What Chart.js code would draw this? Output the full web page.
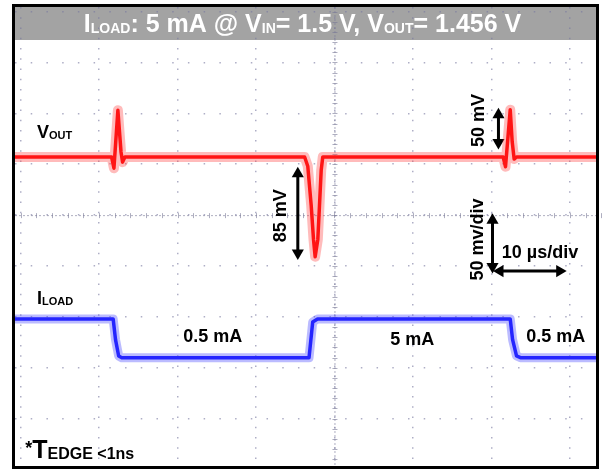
<!DOCTYPE html>
<html>
<head>
<meta charset="utf-8">
<script src="https://cdn.jsdelivr.net/npm/chart.js@4.4.1/dist/chart.umd.min.js"></script>
<style>
  html, body { margin: 0; padding: 0; background: #fff; }
  #wrap { width: 603px; height: 473px; }
</style>
</head>
<body>
<div id="wrap"><canvas id="scopeChart"></canvas></div>
<script>
// time in µs (10 µs/div), VOUT deviation in mV, ILOAD in mA
const voutTime = [-41, -28.4, -28.1, -27.6, -27.2, -27.0, -26.7, -3.8, -3.4, -2.96, -2.67, -2.46, -2.12, -1.91, -1.69, -1.49, 21.5, 21.8, 22.4, 22.65, 22.9, 23.2, 34];
const voutMv   = [0, 0, -11, 46, 5, -5, 0, 0, -9, -48, -81, -98, -81, -48, -13, 0, 0, -9.5, 46.5, 15, -2, 0, 0];

const iloadTime = [-41, -28.2, -27.9, -27.5, -27.1, -3.24, -2.9, -2.77, -2.16, 22.4, 22.7, 23.2, 23.7, 34];
const iloadMa   = [5, 5, 2.6, 0.7, 0.5, 0.5, 3.5, 4.65, 5, 5, 2.6, 0.7, 0.5, 0.5];

// measurement arrows [x, y] pairs
const arrow85mV = [[-4.67, -16.3], [-4.67, -94.4]];
const arrow50mV = [[20.9, 41.7], [20.9, 14.4]];
const arrowVdiv = [[20.14, -0.1], [20.14, -1.01]];   // grid units (div)
const arrowTdiv = [[21.1, -1.1], [28.7, -1.1]];

const toXY = (xs, ys) => xs.map((x, i) => ({ x: x, y: ys[i] }));
const pairs = p => p.map(d => ({ x: d[0], y: d[1] }));

function trace(xs, ys, axis, color, width) {
  return {
    data: toXY(xs, ys), yAxisID: axis,
    borderColor: color, borderWidth: width, borderJoinStyle: 'round',
    pointRadius: 0, tension: 0
  };
}

function arrowSet(points, yAxis, rot) {
  return {
    data: pairs(points), yAxisID: yAxis,
    borderColor: '#000', backgroundColor: '#000', borderWidth: 3,
    pointStyle: 'triangle', pointRadius: 7, pointHoverRadius: 7,
    pointRotation: rot, pointBorderWidth: 0
  };
}

// draw text runs with sub-scripts: [text, size, dy]
function drawRuns(ctx, x, y, runs, align) {
  let w = 0;
  runs.forEach(r => { ctx.font = 'bold ' + r[1] + 'px "Liberation Sans", Arial, sans-serif'; w += ctx.measureText(r[0]).width; });
  let cx = align === 'center' ? x - w / 2 : x;
  ctx.textAlign = 'left';
  ctx.textBaseline = 'alphabetic';
  runs.forEach(r => {
    ctx.font = 'bold ' + r[1] + 'px "Liberation Sans", Arial, sans-serif';
    ctx.fillText(r[0], cx, y + (r[2] || 0));
    cx += ctx.measureText(r[0]).width;
  });
}

const scopeDecor = {
  id: 'scopeDecor',
  beforeDraw(chart) {
    const { ctx, chartArea: a } = chart;
    ctx.save();
    ctx.fillStyle = '#a3a3a3';
    ctx.fillRect(a.left, a.top, a.right - a.left, 33);
    ctx.restore();
  },
  beforeDatasetsDraw(chart) {
    const { ctx, chartArea: a, scales } = chart;
    const x0 = scales.x.getPixelForValue(0), y0 = scales.y.getPixelForValue(0);
    ctx.save();
    ctx.strokeStyle = 'rgba(120,120,150,0.6)';
    ctx.lineWidth = 1;
    ctx.setLineDash([2, 2]);
    ctx.beginPath();
    ctx.moveTo(x0 + 0.5, a.top); ctx.lineTo(x0 + 0.5, a.bottom);
    ctx.moveTo(a.left, y0 + 0.5); ctx.lineTo(a.right, y0 + 0.5);
    ctx.stroke();
    ctx.setLineDash([]);
    ctx.beginPath();
    for (let v = -40; v <= 34; v += 2) {
      const px = Math.round(scales.x.getPixelForValue(v)) + 0.5;
      ctx.moveTo(px, y0 - 2); ctx.lineTo(px, y0 + 3);
    }
    for (let d = -4.8; d <= 4.1; d += 0.2) {
      const py = Math.round(scales.y.getPixelForValue(d)) + 0.5;
      ctx.moveTo(x0 - 2, py); ctx.lineTo(x0 + 3, py);
    }
    ctx.stroke();
    ctx.restore();
  },
  afterDraw(chart) {
    const { ctx, chartArea: a, scales } = chart;
    const px = v => scales.x.getPixelForValue(v);
    const py = v => scales.y.getPixelForValue(v);
    ctx.save();
    // title
    ctx.fillStyle = '#fff';
    drawRuns(ctx, (a.left + a.right) / 2 - 3, a.top + 25, [
      ['I', 25], ['LOAD', 14, 1], [': 5 mA @ V', 25], ['IN', 14, 1],
      ['= 1.5 V, V', 25], ['OUT', 14, 1], ['= 1.456 V', 25]
    ], 'center');
    ctx.fillStyle = '#000';
    drawRuns(ctx, px(-37.9), py(1.51), [['V', 18], ['OUT', 11, 1]], 'left');
    drawRuns(ctx, px(-37.9), py(-1.75), [['I', 18], ['LOAD', 11, 1]], 'left');
    drawRuns(ctx, px(-15.5), py(-2.375) + 6, [['0.5 mA', 18]], 'center');
    drawRuns(ctx, px(9.9), py(-2.43) + 6, [['5 mA', 18]], 'center');
    drawRuns(ctx, px(28.2), py(-2.375) + 6, [['0.5 mA', 18]], 'center');
    drawRuns(ctx, px(26.2), py(-0.73) + 6, [['10 µs/div', 18]], 'center');
    drawRuns(ctx, px(-39.4), py(-4.77), [['*', 18, -4], ['T', 25], ['EDGE <1ns', 16, 1]], 'left');
    const rotated = [['85 mV', -7.0, -0.01], ['50 mV', 18.3, 1.86], ['50 mv/div', 18.2, -0.48]];
    rotated.forEach(r => {
      ctx.save();
      ctx.translate(px(r[1]), py(r[2]));
      ctx.rotate(-Math.PI / 2);
      drawRuns(ctx, 0, 6, [[r[0], 18]], 'center');
      ctx.restore();
    });
    // frame
    ctx.strokeStyle = '#000';
    ctx.lineWidth = 3;
    ctx.strokeRect(a.left - 1.5, a.top - 1.5, a.right - a.left + 3, a.bottom - a.top + 3);
    ctx.restore();
  }
};

new Chart(document.getElementById('scopeChart').getContext('2d'), {
  type: 'line',
  data: {
    datasets: [
      // soft noise band under each trace, then the trace core
      trace(voutTime, voutMv, 'yV', 'rgba(255,60,60,0.35)', 10),
      trace(voutTime, voutMv, 'yV', 'rgb(255,0,0)', 3.5),
      trace(iloadTime, iloadMa, 'yI', 'rgba(60,60,255,0.35)', 9),
      trace(iloadTime, iloadMa, 'yI', 'rgb(25,25,255)', 3.5),
      arrowSet(arrow85mV, 'yV', [0, 180]),
      arrowSet(arrow50mV, 'yV', [0, 180]),
      arrowSet(arrowVdiv, 'y', [0, 180]),
      arrowSet(arrowTdiv, 'y', [270, 90])
    ]
  },
  options: {
    responsive: true,
    maintainAspectRatio: false,
    animation: false,
    layout: { padding: { left: 15, top: 6, right: 6, bottom: 5 } },
    plugins: { legend: { display: false }, tooltip: { enabled: false } },
    scales: {
      x: {
        type: 'linear', min: -40.71, max: 33.33,
        ticks: { display: false, stepSize: 10, includeBounds: false },
        grid: { color: 'rgba(120,120,160,0.6)', lineWidth: 1.5, drawTicks: false },
        border: { display: false, dash: [1.5, 8.74] }
      },
      y: {
        type: 'linear', min: -4.93, max: 4.09,
        ticks: { display: false, stepSize: 1, includeBounds: false },
        grid: { color: 'rgba(120,120,160,0.6)', lineWidth: 1.5, drawTicks: false },
        border: { display: false, dash: [1.5, 14.22] }
      },
      yV: { type: 'linear', display: false, min: -303.7, max: 147.5 },
      yI: { type: 'linear', display: false, min: -12.08, max: 41.23 }
    }
  },
  plugins: [scopeDecor]
});
</script>
</body>
</html>
